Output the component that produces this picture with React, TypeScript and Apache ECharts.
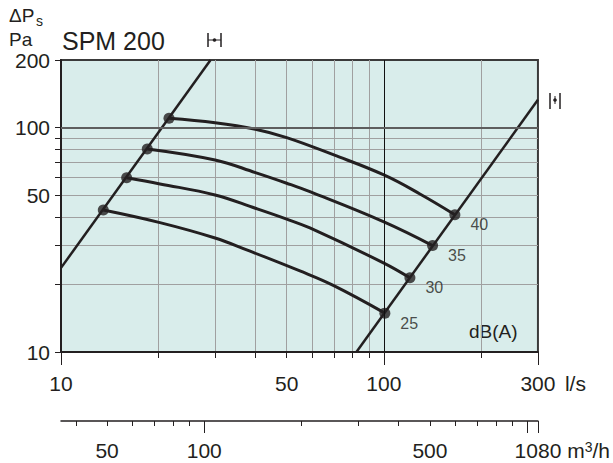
import React, { useEffect, useRef } from 'react';
import * as echarts from 'echarts';

// Axis ticks / labels
const xTicks = [10, 20, 30, 40, 50, 60, 70, 80, 90, 100, 200, 300];
const xLabels = [10, 50, 100, 300];
const xLongTicks = [10, 100, 300];
const yTicks = [10, 20, 30, 40, 50, 60, 70, 80, 90, 100, 200];
const yLabels = [10, 50, 100, 200];
const m3hTicks = [40, 50, 60, 70, 80, 90, 100, 200, 300, 400, 500, 600, 700, 800, 900, 1000, 1080];
const m3hLongTicks = [100, 1000, 1080];
const m3hLabels = [50, 100, 500, 1080];

// System lines (l/s, Pa)
const systemLineLeft = [[10, 23.7], [29.05, 200]];
const systemLineRight = [[82.2, 10], [300, 133]];

// Sound level curves (l/s, Pa)
const curve25 = [[13.52, 42.9], [20.25, 37.7], [30, 32.2], [37.6, 28.5], [54.95, 22.96], [69.7, 19.8], [100.7, 14.9]];
const curve30 = [[15.97, 59.8], [20.25, 56.1], [30, 50.1], [40, 43.7], [50, 39.1], [59, 35.7], [100, 24.9], [120.4, 21.4]];
const curve35 = [[18.5, 80.3], [30, 71.7], [40, 63.0], [50, 56.5], [59, 51.8], [100, 38.0], [141.5, 29.8]];
const curve40 = [[21.6, 110], [30, 105.1], [40, 98.3], [50, 90.2], [70, 75.5], [100, 61.5], [129.3, 50.6], [165.9, 40.9]];
const levelNames = ['25', '30', '35', '40'];

const INK = '#231f20';
const FONT = '"Liberation Sans", Arial, sans-serif';

export default function App() {
  const ref = useRef<HTMLDivElement>(null);
  useEffect(() => {
    if (!ref.current) return;
    const chart = echarts.init(ref.current, null, { renderer: 'svg' });
    const curves = [curve25, curve30, curve35, curve40];
    const curveSeries = curves.map((c) => ({
      type: 'line',
      data: c,
      smooth: 0.4,
      showSymbol: false,
      symbol: 'none',
      lineStyle: { color: INK, width: 3 },
      z: 3,
      silent: true,
    }));
    const leftDots = curves.map((c) => c[0]);
    const rightDots = curves.map((c, i) => ({ value: c[c.length - 1], name: levelNames[i] }));
    const fmt = (v: number) => String(Math.round(v));

    const baseLog = {
      type: 'log',
      logBase: 10,
      gridIndex: 0,
    };

    const option: any = {
      animation: false,
      textStyle: { fontFamily: FONT, color: INK },
      title: {
        text: 'SPM 200',
        left: 57,
        top: 23,
        textStyle: { fontFamily: FONT, fontSize: 25, fontWeight: 'normal', color: INK },
      },
      grid: {
        left: 61,
        right: 75,
        top: 60,
        bottom: 111,
        show: true,
        backgroundColor: '#d9edeb',
        borderColor: '#3a3a3a',
        borderWidth: 2,
      },
      xAxis: [
        {
          ...baseLog,
          min: 10,
          max: 300,
          position: 'bottom',
          name: 'l/s',
          nameLocation: 'end',
          nameGap: 27,
          nameTextStyle: { fontFamily: FONT, fontSize: 21, color: INK, verticalAlign: 'top', padding: [21, 0, 0, 0] },
          axisLine: { show: true, lineStyle: { color: INK, width: 2 } },
          axisTick: { show: true, customValues: xTicks, length: 6, lineStyle: { color: INK, width: 1 } },
          axisLabel: { customValues: xLabels, formatter: fmt, fontFamily: FONT, fontSize: 21, color: INK, margin: 21 },
          splitLine: { show: true, showMinLine: false, showMaxLine: false, lineStyle: { color: '#a0a0a0', width: 1 } },
          minorTick: { show: false },
          minorSplitLine: { show: false },
        },
        {
          ...baseLog,
          min: 10,
          max: 300,
          position: 'bottom',
          axisLine: { show: false },
          axisTick: { show: true, customValues: xLongTicks, length: 13, lineStyle: { color: INK, width: 1 } },
          axisLabel: { show: false },
          splitLine: { show: false },
        },
        {
          ...baseLog,
          min: 36,
          max: 1080,
          position: 'bottom',
          offset: 69,
          name: '{a|m}{s|3}{a|/h}',
          nameLocation: 'end',
          nameGap: 21,
          nameTextStyle: {
            verticalAlign: 'top',
            padding: [19, 0, 0, 0],
            rich: {
              a: { fontFamily: FONT, fontSize: 21, color: INK },
              s: { fontFamily: FONT, fontSize: 14, color: INK, verticalAlign: 'top', padding: [0, 0, 6, 0] },
            },
          },
          axisLine: { show: true, lineStyle: { color: INK, width: 1.5 } },
          axisTick: { show: true, customValues: m3hTicks, length: 5, lineStyle: { color: INK, width: 1 } },
          axisLabel: { customValues: m3hLabels, formatter: fmt, fontFamily: FONT, fontSize: 21, color: INK, margin: 19 },
          splitLine: { show: false },
        },
        {
          ...baseLog,
          min: 36,
          max: 1080,
          position: 'bottom',
          offset: 69,
          axisLine: { show: false },
          axisTick: { show: true, customValues: m3hLongTicks, length: 12, lineStyle: { color: INK, width: 1 } },
          axisLabel: { show: false },
          splitLine: { show: false },
        },
      ],
      yAxis: [
        {
          type: 'log',
          logBase: 10,
          min: 10,
          max: 200,
          axisLine: { show: true, lineStyle: { color: INK, width: 2 } },
          axisTick: { show: true, customValues: yTicks, length: 6, lineStyle: { color: INK, width: 1 } },
          axisLabel: { customValues: yLabels, formatter: fmt, fontFamily: FONT, fontSize: 21, color: INK, margin: 11 },
          splitLine: { show: true, showMinLine: false, showMaxLine: false, lineStyle: { color: '#a0a0a0', width: 1 } },
          minorTick: { show: false },
          minorSplitLine: { show: false },
        },
      ],
      graphic: [
        { type: 'text', left: 9, top: 6, style: { text: 'ΔP', font: `19px ${FONT}`, fill: INK } },
        { type: 'text', left: 36, top: 14, style: { text: 's', font: `14px ${FONT}`, fill: INK } },
        { type: 'text', left: 9, top: 30, style: { text: 'Pa', font: `19px ${FONT}`, fill: INK } },
        { type: 'text', left: 469, top: 322, style: { text: 'dB(A)', font: `19px ${FONT}`, fill: INK } },
        // duct symbol near left system line
        { type: 'line', shape: { x1: 208, y1: 33, x2: 208, y2: 47 }, style: { stroke: INK, lineWidth: 1.5 } },
        { type: 'line', shape: { x1: 221, y1: 33, x2: 221, y2: 47 }, style: { stroke: INK, lineWidth: 1.5 } },
        { type: 'line', shape: { x1: 208, y1: 40, x2: 221, y2: 40 }, style: { stroke: INK, lineWidth: 1 } },
        { type: 'circle', shape: { cx: 214.5, cy: 40, r: 1.8 }, style: { fill: INK } },
        // duct symbol near right system line
        { type: 'line', shape: { x1: 550, y1: 93, x2: 550, y2: 109 }, style: { stroke: INK, lineWidth: 1.5 } },
        { type: 'line', shape: { x1: 560, y1: 93, x2: 560, y2: 109 }, style: { stroke: INK, lineWidth: 1.5 } },
        { type: 'line', shape: { x1: 555, y1: 96, x2: 555, y2: 104 }, style: { stroke: INK, lineWidth: 1 } },
        { type: 'circle', shape: { cx: 555, cy: 100, r: 1.8 }, style: { fill: INK } },
      ],
      series: [
        {
          type: 'line',
          data: [],
          z: 1,
          silent: true,
          markLine: {
            silent: true,
            symbol: 'none',
            label: { show: false },
            animation: false,
            data: [
              { xAxis: 100, lineStyle: { color: '#111111', width: 1, type: 'solid' } },
              { yAxis: 100, lineStyle: { color: '#5e5e5e', width: 2, type: 'solid' } },
            ],
          },
        },
        {
          type: 'line',
          data: systemLineLeft,
          symbol: 'none',
          lineStyle: { color: INK, width: 2.5 },
          z: 3,
          silent: true,
        },
        {
          type: 'line',
          data: systemLineRight,
          symbol: 'none',
          lineStyle: { color: INK, width: 2.5 },
          z: 3,
          silent: true,
        },
        ...curveSeries,
        {
          type: 'scatter',
          data: leftDots,
          symbolSize: 11,
          itemStyle: { color: INK },
          z: 4,
          silent: true,
        },
        {
          type: 'scatter',
          data: rightDots,
          symbolSize: 11,
          itemStyle: { color: INK },
          z: 4,
          silent: true,
          label: {
            show: true,
            position: 'right',
            distance: 10,
            offset: [0, 10],
            formatter: (p: any) => p.name,
            fontFamily: FONT,
            fontSize: 16,
            color: INK,
          },
        },
      ],
    };
    chart.setOption(option);
    return () => chart.dispose();
  }, []);
  return (
    <div
      ref={ref}
      style={{ position: 'fixed', left: 0, top: 0, width: 613, height: 463, background: '#ffffff' }}
    />
  );
}
